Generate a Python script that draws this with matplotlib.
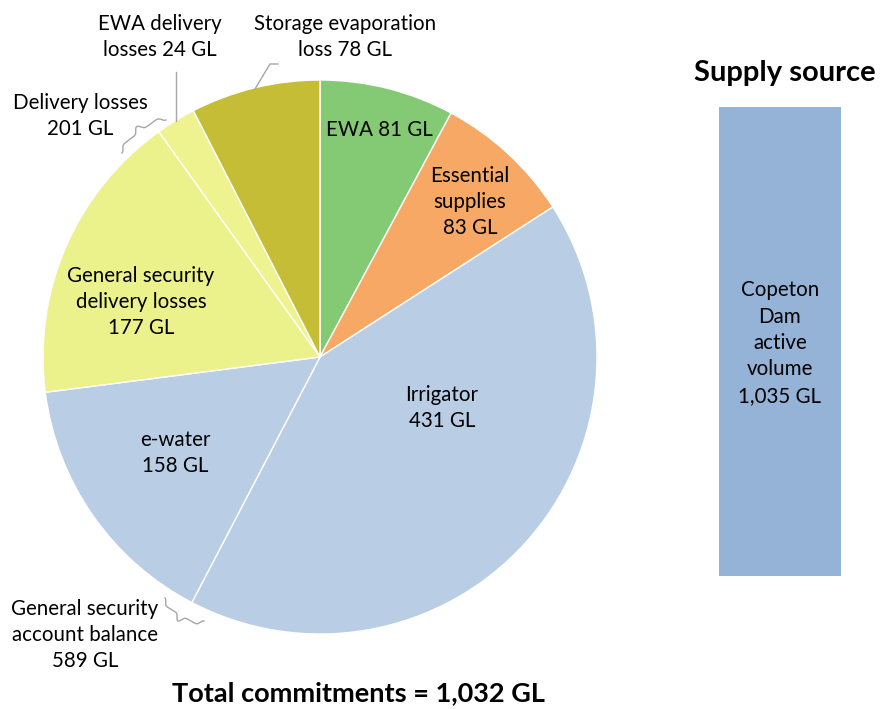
import numpy as np
import matplotlib
matplotlib.use("Agg")
from matplotlib import pyplot as plt
from matplotlib.patches import Rectangle

plt.rcParams["font.family"] = ["Lato", "DejaVu Sans"]

# slices, clockwise from 12 o'clock
labels = ["EWA 81 GL", "Essential\nsupplies\n83 GL", "Irrigator\n431 GL", "e-water\n158 GL",
          "General security\ndelivery losses\n177 GL", "", ""]
values = [81, 83, 431, 158, 177, 24, 78]
colors = ["#84c973", "#f7a864", "#b9cde5", "#b9cde5", "#ebf18b", "#eef28f", "#c4bd35"]

supply_label = "Copeton\nDam\nactive\nvolume\n1,035 GL"
supply_value = 1035
total = sum(values)

H = 709
fig = plt.figure(figsize=(8.8, 7.09), dpi=100)
ax = fig.add_axes([0, 0, 1, 1])

cx, cy, r = 320, H - 357, 277
wedges, _ = ax.pie(values, colors=colors, startangle=90, counterclock=False,
                   center=(cx, cy), radius=r, frame=True,
                   wedgeprops=dict(edgecolor="white", linewidth=1))
ax.set_xlim(0, 880)
ax.set_ylim(0, H)
ax.set_aspect("equal")
ax.axis("off")

fs = 14.8
ls = 1.36
def px(x, y):
    return x, H - y

# in-slice labels
pos = [(379, 130), (470, 202), (442, 408), (175, 453), (141, 302)]
for lab, p in zip(labels[:5], pos):
    ax.text(*px(*p), lab, ha="center", va="center", fontsize=fs, linespacing=ls)

gray = "#a6a6a6"

# outside labels
ax.text(*px(345, 37), "Storage evaporation\nloss 78 GL", ha="center", va="center", fontsize=fs, linespacing=ls)
ax.plot(*zip(px(255, 89), px(270, 64), px(278, 64)), color=gray, lw=1)

ax.text(*px(160, 37), "EWA delivery\nlosses 24 GL", ha="center", va="center", fontsize=fs, linespacing=ls)
ax.plot(*zip(px(176, 72), px(176, 121)), color=gray, lw=1)

ax.text(*px(80, 116), "Delivery losses\n201 GL", ha="center", va="center", fontsize=fs, linespacing=ls)
ax.text(*px(85, 635), "General security\naccount balance\n589 GL", ha="center", va="center", fontsize=fs, linespacing=ls)


def brace(p1, p2, amp, k=50):
    p1, p2 = np.array(px(*p1), float), np.array(px(*p2), float)
    d = p2 - p1
    L = np.hypot(*d)
    u = d / L
    n = np.array([-u[1], u[0]])
    t = np.linspace(0, 0.5, 80)
    half = 1 / (1 + np.exp(-k * (t - 0.06))) + 1 / (1 + np.exp(-k * (t - 0.44)))
    half = half - half[0]
    y = np.concatenate([half, half[::-1]]) * amp / 2
    s = np.concatenate([t, 1 - t[::-1]]) * L
    pts = p1[None, :] + s[:, None] * u[None, :] + y[:, None] * n[None, :]
    ax.plot(pts[:, 0], pts[:, 1], color=gray, lw=1)

brace((122, 153), (166, 120), 13)
brace((165, 598), (204, 621), -14)

# supply source bar
ax.add_patch(Rectangle(px(719, 576), 122, 576 - 107, facecolor="#95b3d7", edgecolor="none"))
ax.text(*px(780, 343), supply_label, ha="center", va="center", fontsize=fs, linespacing=1.4)
ax.text(*px(785, 73), "Supply source", ha="center", va="center", fontsize=21, fontweight="bold")

ax.text(*px(358, 693), "Total commitments = {:,} GL".format(total), ha="center", va="center",
        fontsize=19.5, fontweight="bold")

fig.savefig("out.png", dpi=100)
